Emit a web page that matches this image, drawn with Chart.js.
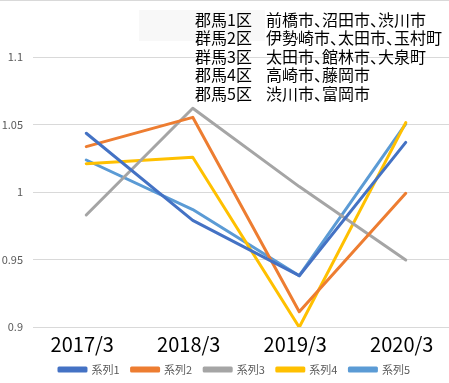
<!DOCTYPE html>
<html>
<head>
<meta charset="utf-8">
<script src="https://cdn.jsdelivr.net/npm/chart.js@4"></script>
<style>
  html, body { margin: 0; padding: 0; background: #fff; overflow: hidden; }
  #chart { display: block; }
</style>
</head>
<body>
<canvas id="chart" width="459" height="394"></canvas>
<script>
// Category labels and series (ratio values)
const years = ['2017/3', '2018/3', '2019/3', '2020/3'];
const seriesNames = ['系列1', '系列2', '系列3', '系列4', '系列5'];
const series1 = [1.0435, 0.979, 0.938, 1.0368];
const series2 = [1.0336, 1.0553, 0.9113, 0.999];
const series3 = [0.983, 1.062, 1.004, 0.9496];
const series4 = [1.021, 1.0257, 0.8998, 1.0514];
const series5 = [1.0237, 0.987, 0.938, 1.0504];
const seriesColors = ['#4472C4', '#ED7D31', '#A5A5A5', '#FFC000', '#5B9BD5'];

// Annotation text box (district / municipality)
const districtLabels = ['郡馬1区', '群馬2区', '群馬3区', '郡馬4区', '郡馬5区'];
const districtCities = [
  '前橋市、沼田市、渋川市',
  '伊勢崎市、太田市、玉村町',
  '太田市、館林市、大泉町',
  '高崎市、藤岡市',
  '渋川市、富岡市',
];

const FONT = '"Noto Sans CJK JP", "Noto Sans", sans-serif';

/**
 * Draws the top border line and the text box with district names,
 * and nudges the legend to where it sits in the original
 */
const notesPlugin = {
  id: 'notes',
  afterLayout(chart) {
    const lg = chart.legend;
    if (!lg) return;
    lg.top -= 9;
    lg.bottom -= 9;
    lg.left += 5;
    lg.right += 5;
  },
  beforeDraw(chart) {
    const ctx = chart.ctx;
    ctx.save();
    ctx.fillStyle = '#f8f8f8';
    ctx.fillRect(139, 10, 126, 31);
    ctx.restore();
  },
  afterDraw(chart) {
    const ctx = chart.ctx;
    ctx.save();
    ctx.fillStyle = '#d9d9d9';
    ctx.fillRect(0, 0, chart.width, 1);

    ctx.font = '16px ' + FONT;
    ctx.fillStyle = '#000';
    ctx.textBaseline = 'middle';
    districtLabels.forEach((label, i) => {
      const y = 19.5 + i * 18.5;
      ctx.fillText(label, 195, y);
      // cities, with the 、 taking half width like the source font
      let x = 266;
      const parts = districtCities[i].split('、');
      parts.forEach((part, j) => {
        ctx.fillText(part, x, y);
        x += ctx.measureText(part).width;
        if (j < parts.length - 1) {
          ctx.fillText('、', x, y);
          x += 8;
        }
      });
    });
    ctx.restore();
  },
};

const allSeries = [series1, series2, series3, series4, series5];

const chartData = {
  labels: years,
  datasets: allSeries.map((values, i) => ({
    label: seriesNames[i],
    data: values,
    borderColor: seriesColors[i],
    backgroundColor: seriesColors[i],
    borderWidth: 3,
    pointRadius: 0,
    tension: 0,
    borderCapStyle: 'round',
    borderJoinStyle: 'round',
    fill: false,
  })),
};

const config = {
  type: 'line',
  data: chartData,
  plugins: [notesPlugin],
  options: {
    responsive: false,
    animation: false,
    devicePixelRatio: 1,
    layout: {
      padding: { top: 57, left: 0, right: 0, bottom: 0 },
    },
    scales: {
      x: {
        offset: true,
        grid: { display: false, drawTicks: false },
        border: { display: false },
        ticks: {
          color: '#000',
          padding: 9,
          labelOffset: -4,
          font: { family: FONT, size: 20, lineHeight: 0.8 },
        },
      },
      y: {
        min: 0.9,
        max: 1.1,
        afterFit: (scale) => { scale.width = 33; },
        grid: { color: '#d9d9d9', lineWidth: 1, drawTicks: false },
        border: { display: false },
        ticks: {
          stepSize: 0.05,
          color: '#595959',
          padding: 10,
          font: { family: FONT, size: 11 },
          callback: (v) => String(Math.round(v * 100) / 100),
        },
      },
    },
    plugins: {
      legend: {
        display: true,
        position: 'bottom',
        labels: {
          boxWidth: 27,
          boxHeight: 3,
          padding: 12,
          color: '#595959',
          font: { family: FONT, size: 11 },
        },
      },
      tooltip: { enabled: false },
    },
  },
};

new Chart(document.getElementById('chart'), config);
</script>
</body>
</html>
